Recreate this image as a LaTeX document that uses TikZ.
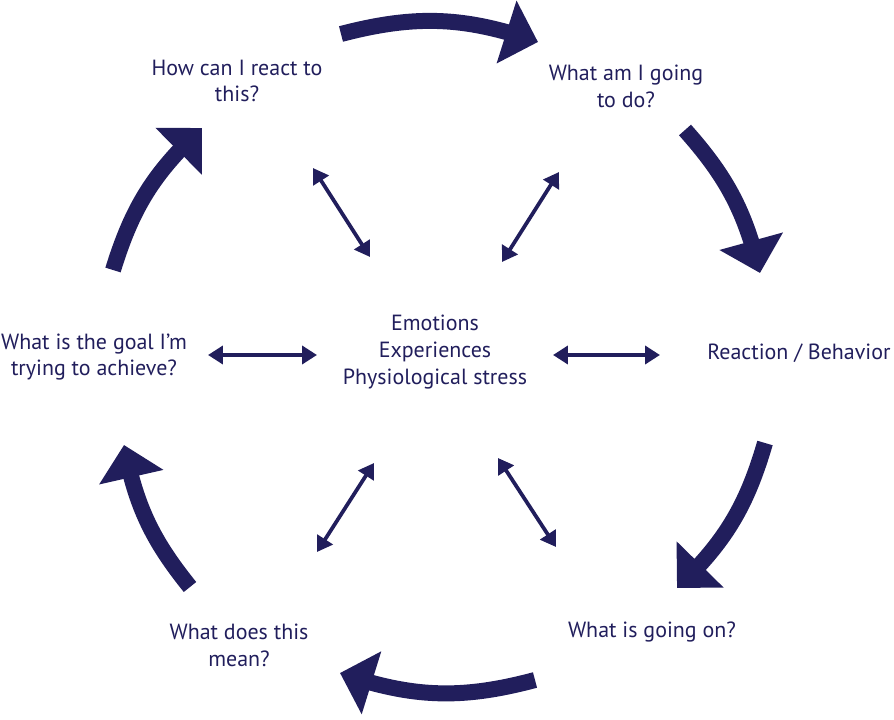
\documentclass[tikz,border=0pt]{standalone}
\usepackage{fontspec}
\setmainfont{PT Sans}
\usetikzlibrary{arrows.meta,bending}
\definecolor{navy}{RGB}{33,30,92}

\begin{document}
\begin{tikzpicture}[x=0.02cm, y=-0.02cm,
  lbl/.style={text=navy, align=center, inner sep=0pt, font=\fontsize{12.5}{15.3}\selectfont},
  cyc/.style={navy, line width=0.32cm, -{Triangle[length=0.66cm, width=1.28cm, flex]}},
  dbl/.style={navy, line width=0.075cm, {Triangle[length=0.3cm, width=0.36cm]}-{Triangle[length=0.3cm, width=0.36cm]}}]
\useasboundingbox (0,0) rectangle (894,720);
% labels
\node[lbl] (ctr)   at (435,352) {Emotions\\Experiences\\Physiological stress};
\node[lbl] (react) at (237,81)  {How can I react to\\this?};
\node[lbl] (todo)  at (626,86)  {What am I going\\to do?};
\node[lbl] (behav) at (799,353) {Reaction / Behavior};
\node[lbl] (onnow) at (652,632) {What is going on?};
\node[lbl] (mean)  at (239,645) {What does this\\mean?};
\node[lbl] (goal)  at (94,357)  {What is the goal I’m\\trying to achieve?};
% ends of the cycle arrows
\coordinate (c1a) at (341,34);  \coordinate (c1b) at (538,42);
\coordinate (c2a) at (685,130); \coordinate (c2b) at (760,273);
\coordinate (c3a) at (765,443); \coordinate (c3b) at (677,588);
\coordinate (c4a) at (535,680); \coordinate (c4b) at (340,673);
\coordinate (c5a) at (190,587); \coordinate (c5b) at (124,445);
\coordinate (c6a) at (113,270); \coordinate (c6b) at (202,128);
\draw[cyc] (c1a) to[bend left=17] (c1b);
\draw[cyc] (c2a) to[bend left=14] (c2b);
\draw[cyc] (c3a) to[bend left=15] (c3b);
\draw[cyc] (c4a) to[bend left=17] (c4b);
\draw[cyc] (c5a) to[bend left=14] (c5b);
\draw[cyc] (c6a) to[bend left=15] (c6b);
% ends of the two-way arrows
\coordinate (d1a) at (370,257); \coordinate (d1b) at (313,168);
\coordinate (d2a) at (502,262); \coordinate (d2b) at (559,172);
\coordinate (d3a) at (553,355); \coordinate (d3b) at (660,355);
\coordinate (d4a) at (498,458); \coordinate (d4b) at (556,547);
\coordinate (d5a) at (374,463); \coordinate (d5b) at (317,552);
\coordinate (d6a) at (317,355); \coordinate (d6b) at (208,355);
\draw[dbl] (d1a) -- (d1b);
\draw[dbl] (d2a) -- (d2b);
\draw[dbl] (d3a) -- (d3b);
\draw[dbl] (d4a) -- (d4b);
\draw[dbl] (d5a) -- (d5b);
\draw[dbl] (d6a) -- (d6b);
\end{tikzpicture}
\end{document}
